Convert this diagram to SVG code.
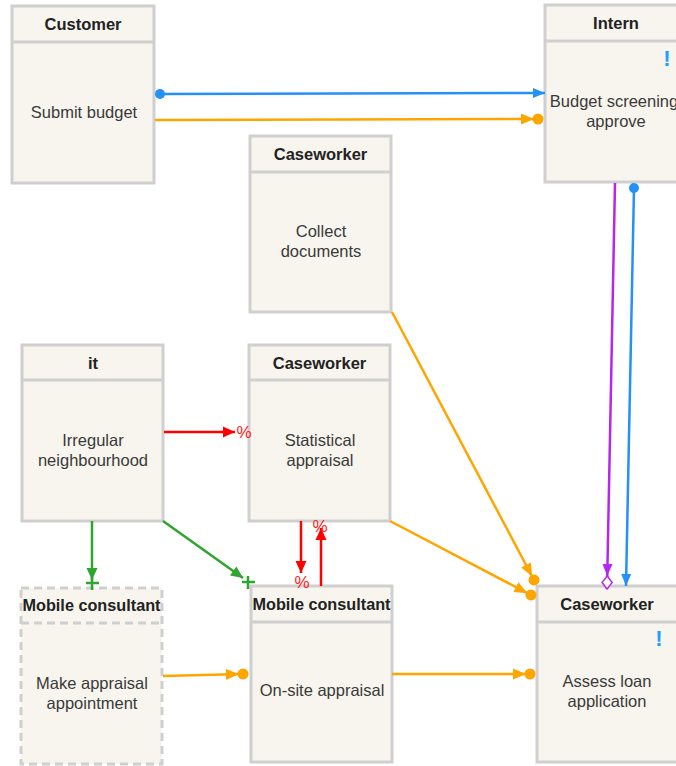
<svg xmlns="http://www.w3.org/2000/svg" width="676" height="766" viewBox="0 0 676 766">
<style>
.box{fill:#f7f5ee;stroke:#cfcfcf;stroke-width:3}
.dash{stroke-dasharray:8 5}
.hd{font-family:"Liberation Sans",Arial,sans-serif;font-size:16.5px;font-weight:bold;fill:#222;text-anchor:middle}
.bd{font-family:"Liberation Sans",Arial,sans-serif;font-size:16.5px;fill:#3a3a3a;text-anchor:middle}
.ex{font-family:"Liberation Sans",Arial,sans-serif;font-size:22px;font-weight:bold;fill:#1ea0ff;text-anchor:middle}
.pc{font-family:"Liberation Sans",Arial,sans-serif;font-size:17px;fill:#ff2020;text-anchor:middle}
.ln{fill:none;stroke-width:2.5}
.blue{stroke:#2490f8}
.orange{stroke:#ffa500}
.purple{stroke:#b526f0}
.red{stroke:#ff0000}
.green{stroke:#2ea52e}
</style>
<defs>
<marker id="blueArrow" markerUnits="userSpaceOnUse" viewBox="-14 -7 16 14" refX="0" refY="0" markerWidth="16" markerHeight="14" orient="auto"><path d="M-12,-5 L0,0 L-12,5 z" fill="#2490f8"/></marker>
<marker id="blueDot" markerUnits="userSpaceOnUse" viewBox="-7 -7 14 14" refX="0" refY="0" markerWidth="14" markerHeight="14" orient="auto"><circle r="5" fill="#2490f8"/></marker>
<marker id="orangeEnd" markerUnits="userSpaceOnUse" viewBox="-20 -7 27 14" refX="0" refY="0" markerWidth="27" markerHeight="14" orient="auto"><path d="M-17,-5.5 L-4,0 L-17,5.5 z" fill="#ffa500"/><circle r="5.5" fill="#ffa500"/></marker>
<marker id="purpleEnd" markerUnits="userSpaceOnUse" viewBox="-28 -8 30 16" refX="0" refY="0" markerWidth="30" markerHeight="16" orient="auto"><path d="M-25,-5 L-13,0 L-25,5 z" fill="#b526f0"/><path d="M0,0 L-6.5,-5 L-13,0 L-6.5,5 z" fill="#fff" stroke="#b526f0" stroke-width="1.5"/></marker>
<marker id="redArrow" markerUnits="userSpaceOnUse" viewBox="-14 -7 16 14" refX="0" refY="0" markerWidth="16" markerHeight="14" orient="auto"><path d="M-12,-5.5 L0,0 L-12,5.5 z" fill="#ff0000"/></marker>
<marker id="greenArrow" markerUnits="userSpaceOnUse" viewBox="-14 -7 16 14" refX="0" refY="0" markerWidth="16" markerHeight="14" orient="auto"><path d="M-12,-5.5 L0,0 L-12,5.5 z" fill="#2ea52e"/></marker>
</defs>

<g id="n-customer">
<rect class="box" x="12" y="6" width="142" height="177"/>
<line x1="12" y1="42" x2="154" y2="42" stroke="#cfcfcf" stroke-width="3"/>
<text class="hd" x="83" y="30">Customer</text>
<text class="bd" x="84" y="118">Submit budget</text>
</g>

<g id="n-intern">
<rect class="box" x="545" y="5" width="142" height="177"/>
<line x1="545" y1="41" x2="687" y2="41" stroke="#cfcfcf" stroke-width="3"/>
<text class="hd" x="616" y="29">Intern</text>
<text class="ex" x="667" y="66">!</text>
<text class="bd" x="614" y="107">Budget screening</text>
<text class="bd" x="616" y="127">approve</text>
</g>

<g id="n-collect">
<rect class="box" x="250" y="136" width="141" height="176"/>
<line x1="250" y1="172" x2="391" y2="172" stroke="#cfcfcf" stroke-width="3"/>
<text class="hd" x="320.5" y="160">Caseworker</text>
<text class="bd" x="321" y="237">Collect</text>
<text class="bd" x="321" y="257">documents</text>
</g>

<g id="n-it">
<rect class="box" x="22" y="345" width="141" height="176"/>
<line x1="22" y1="380" x2="163" y2="380" stroke="#cfcfcf" stroke-width="3"/>
<text class="hd" x="93" y="369">it</text>
<text class="bd" x="93" y="446">Irregular</text>
<text class="bd" x="93" y="466">neighbourhood</text>
</g>

<g id="n-statistical">
<rect class="box" x="249" y="345" width="141" height="176"/>
<line x1="249" y1="380" x2="390" y2="380" stroke="#cfcfcf" stroke-width="3"/>
<text class="hd" x="319.5" y="369">Caseworker</text>
<text class="bd" x="320" y="446">Statistical</text>
<text class="bd" x="320" y="466">appraisal</text>
</g>

<g id="n-make">
<rect class="box dash" x="21" y="588" width="141" height="176"/>
<line class="dash" x1="21" y1="623" x2="162" y2="623" stroke="#cfcfcf" stroke-width="3"/>
<text class="hd" x="91.5" y="611" textLength="138" lengthAdjust="spacingAndGlyphs">Mobile consultant</text>
<text class="bd" x="92" y="689">Make appraisal</text>
<text class="bd" x="92" y="709">appointment</text>
</g>

<g id="n-onsite">
<rect class="box" x="251" y="586" width="141" height="176"/>
<line x1="251" y1="622" x2="392" y2="622" stroke="#cfcfcf" stroke-width="3"/>
<text class="hd" x="321.5" y="610" textLength="138" lengthAdjust="spacingAndGlyphs">Mobile consultant</text>
<text class="bd" x="322" y="696">On-site appraisal</text>
</g>

<g id="n-assess">
<rect class="box" x="537" y="586" width="142" height="176"/>
<line x1="537" y1="622" x2="679" y2="622" stroke="#cfcfcf" stroke-width="3"/>
<text class="hd" x="607" y="610">Caseworker</text>
<text class="ex" x="659" y="646">!</text>
<text class="bd" x="607" y="687">Assess loan</text>
<text class="bd" x="607" y="707">application</text>
</g>

<g id="connectors">
<path class="ln blue" d="M160,94 L545,93" marker-start="url(#blueDot)" marker-end="url(#blueArrow)"/>
<path class="ln orange" d="M155,120 L538,119" marker-end="url(#orangeEnd)"/>
<path class="ln purple" d="M615,183 L607,589" marker-end="url(#purpleEnd)"/>
<path class="ln blue" d="M634,188 L626,586" marker-start="url(#blueDot)" marker-end="url(#blueArrow)"/>
<path class="ln orange" d="M392,312 L534,580" marker-end="url(#orangeEnd)"/>
<path class="ln orange" d="M390,521 L531,595" marker-end="url(#orangeEnd)"/>
<path class="ln orange" d="M163,676 L243,674" marker-end="url(#orangeEnd)"/>
<path class="ln orange" d="M392,674 L530,674" marker-end="url(#orangeEnd)"/>
<path class="ln red" d="M164,432 L235,432" marker-end="url(#redArrow)"/>
<text class="pc" x="244" y="438">%</text>
<path class="ln red" d="M301,521 L301,573" marker-end="url(#redArrow)"/>
<text class="pc" x="302" y="588">%</text>
<path class="ln red" d="M321,586 L321,528" marker-end="url(#redArrow)"/>
<text class="pc" x="320" y="532">%</text>
<path class="ln green" d="M92,521 L92,580" marker-end="url(#greenArrow)"/>
<path class="ln green" d="M86,583 L99,583 M92,577 L92,590"/>
<path class="ln green" d="M163,521 L243,578" marker-end="url(#greenArrow)"/>
<path class="ln green" d="M242,582 L255,582 M248,576 L248,589"/>
</g>
</svg>
